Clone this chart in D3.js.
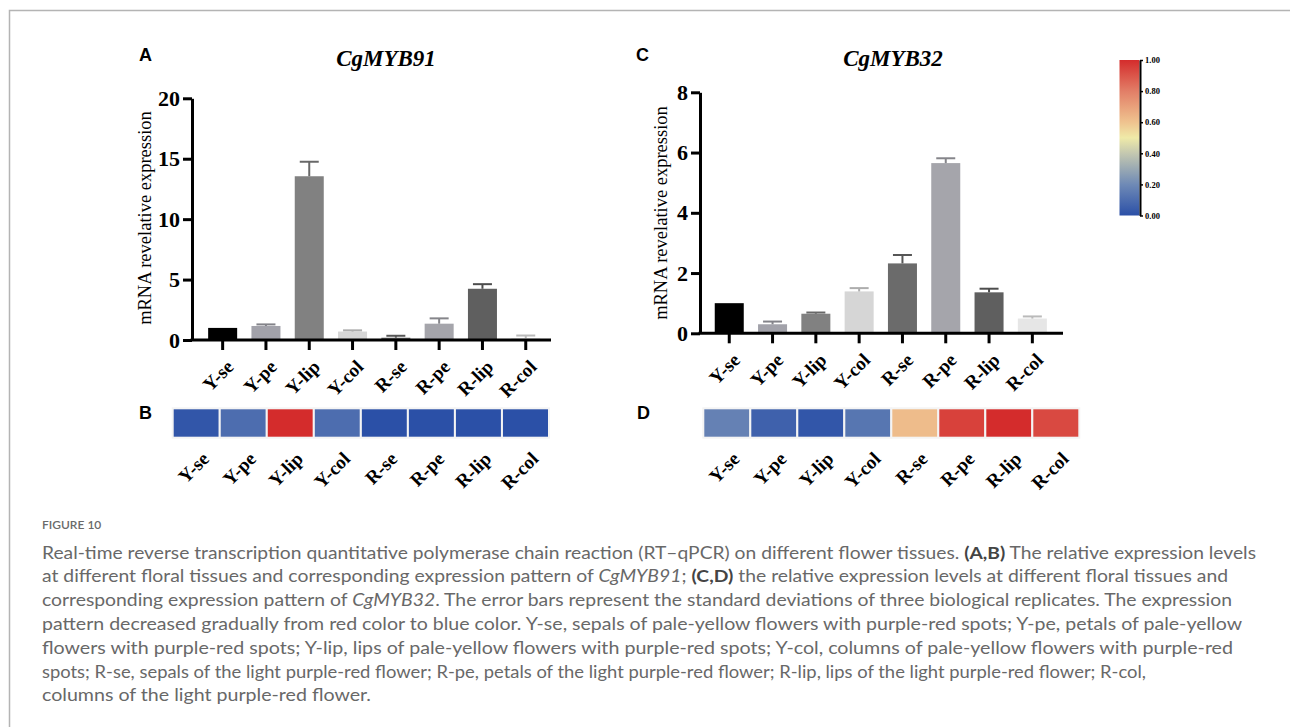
<!DOCTYPE html>
<html>
<head>
<meta charset="utf-8">
<script src="https://cdn.jsdelivr.net/npm/d3@7"></script>
<style>
  body { margin: 0; background: #fff; }
  svg { display: block; }
</style>
</head>
<body>
<div id="chart"></div>
<script>
// ---------------- data ----------------
var tissues = ["Y-se", "Y-pe", "Y-lip", "Y-col", "R-se", "R-pe", "R-lip", "R-col"];
var barColors = ["#000000", "#a2a2aa", "#818181", "#d6d6d6", "#6b6b6b", "#a5a5ab", "#5f5f5f", "#e6e6e6"];

var myb91Mean = [1.0, 1.16, 13.55, 0.70, 0.19, 1.35, 4.24, 0.15];
var myb91Sd   = [0.0, 0.13, 1.20, 0.10, 0.16, 0.44, 0.38, 0.22];
var myb91Ticks = [0, 5, 10, 15, 20];

var myb32Mean = [1.0, 0.30, 0.65, 1.39, 2.32, 5.65, 1.36, 0.49];
var myb32Sd   = [0.0, 0.09, 0.04, 0.11, 0.28, 0.16, 0.12, 0.07];
var myb32Ticks = [0, 2, 4, 6, 8];

// heat map patterns (normalised 0..1)
var heatB = [0.02, 0.10, 1.00, 0.10, 0.00, 0.00, 0.00, 0.00];
var heatD = [0.17, 0.06, 0.02, 0.13, 0.62, 0.95, 1.00, 0.93];

var legendStops = [0, 0.2, 0.4, 0.5, 0.6, 0.8, 1.0];
var legendColors = ["#2b50a7", "#6f8ab6", "#c4c8b0", "#efeaa8", "#efc38f", "#e27e67", "#d42c2c"];
var legendTicks = [0, 0.2, 0.4, 0.6, 0.8, 1.0];

var captionLines = [
  [["Real-time reverse transcription quantitative polymerase chain reaction (RT\u2013qPCR) on different flower tissues. ", ""], ["(A,B)", "b"], [" The relative expression levels", ""]],
  [["at different floral tissues and corresponding expression pattern of ", ""], ["CgMYB91", "i"], ["; ", ""], ["(C,D)", "b"], [" the relative expression levels at different floral tissues and", ""]],
  [["corresponding expression pattern of ", ""], ["CgMYB32", "i"], [". The error bars represent the standard deviations of three biological replicates. The expression", ""]],
  [["pattern decreased gradually from red color to blue color. Y-se, sepals of pale-yellow flowers with purple-red spots; Y-pe, petals of pale-yellow", ""]],
  [["flowers with purple-red spots; Y-lip, lips of pale-yellow flowers with purple-red spots; Y-col, columns of pale-yellow flowers with purple-red", ""]],
  [["spots; R-se, sepals of the light purple-red flower; R-pe, petals of the light purple-red flower; R-lip, lips of the light purple-red flower; R-col,", ""]],
  [["columns of the light purple-red flower.", ""]]
];
var captionEnds = [1256, 1228, 1232, 1242, 1233, 1146, 371];

// ---------------- setup ----------------
var W = 1290, H = 727;
var serif = '"Times New Roman", "Liberation Serif", serif';
var sans = 'Arial, "Liberation Sans", sans-serif';

var svg = d3.select("#chart").append("svg")
    .attr("width", W).attr("height", H);

// frame
svg.append("path")
    .attr("d", "M9.5," + H + "V10.5H" + W)
    .attr("fill", "none").attr("stroke", "#b4b4b4").attr("stroke-width", 1.5);

var colorScale = d3.scaleLinear().domain(legendStops).range(legendColors).clamp(true);

function barPanel(o) {
    var g = svg.append("g");
    var x = d3.scaleBand().domain(tissues)
        .range([o.bandStart, o.bandStart + 8 * 43.3])
        .paddingInner(0.33).paddingOuter(0.165);
    var y = d3.scaleLinear().domain([0, o.ticks[o.ticks.length - 1]]).range([o.y0, o.y1]);
    var rows = tissues.map(function (t, i) {
        return {name: t, mean: o.mean[i], sd: o.sd[i], color: barColors[i]};
    });

    g.selectAll("rect.bar").data(rows).enter().append("rect")
        .attr("class", "bar")
        .attr("x", function (d) { return x(d.name); })
        .attr("width", x.bandwidth())
        .attr("y", function (d) { return y(d.mean); })
        .attr("height", function (d) { return y(0) - y(d.mean); })
        .attr("fill", function (d) { return d.color; });

    // error bars (upper half only)
    var err = g.selectAll("g.err").data(rows.filter(function (d) { return d.sd > 0; }))
        .enter().append("g").attr("class", "err")
        .attr("transform", function (d) { return "translate(" + (x(d.name) + x.bandwidth() / 2) + ",0)"; });
    err.append("line")
        .attr("y1", function (d) { return y(d.mean); })
        .attr("y2", function (d) { return y(d.mean + d.sd); })
        .attr("stroke", function (d) { return d3.color(d.color).darker(0.6); })
        .attr("stroke-width", 2);
    err.append("line")
        .attr("x1", -9.5).attr("x2", 9.5)
        .attr("y1", function (d) { return y(d.mean + d.sd); })
        .attr("y2", function (d) { return y(d.mean + d.sd); })
        .attr("stroke", function (d) { return d3.color(d.color).darker(0.6); })
        .attr("stroke-width", 2);

    // y axis
    var ya = g.append("g")
        .attr("transform", "translate(" + o.axisX + ",0)")
        .call(d3.axisLeft(y).tickValues(o.ticks).tickSize(9).tickSizeOuter(0).tickPadding(3).tickFormat(d3.format("d")));
    ya.select(".domain").attr("stroke-width", 3);
    ya.selectAll(".tick line").attr("stroke-width", 3);
    ya.selectAll(".tick text")
        .attr("font-family", serif).attr("font-weight", "bold").attr("font-size", 22).attr("fill", "#000");

    // x axis
    var xa = g.append("g")
        .attr("transform", "translate(0," + o.y0 + ")")
        .call(d3.axisBottom(x).tickSize(10).tickSizeOuter(0));
    xa.select(".domain").remove();
    xa.append("line").attr("x1", o.axisX - 1.5).attr("x2", o.axisEnd)
        .attr("stroke", "#000").attr("stroke-width", 3);
    xa.selectAll(".tick line").attr("stroke-width", 3);
    xa.selectAll(".tick text")
        .attr("font-family", serif).attr("font-weight", "bold").attr("font-size", 19).attr("fill", "#000")
        .attr("text-anchor", "end").attr("y", 0).attr("dy", 0)
        .attr("transform", "translate(12,28) rotate(-45)");

    // y label
    g.append("text")
        .attr("transform", "translate(" + o.labelX + "," + o.labelY + ") rotate(-90)")
        .attr("text-anchor", "middle").attr("dominant-baseline", "central")
        .attr("font-family", serif).attr("font-size", 18.5)
        .text("mRNA revelative expression");

    // title
    g.append("text")
        .attr("x", o.titleX).attr("y", 66)
        .attr("text-anchor", "middle")
        .attr("font-family", serif).attr("font-weight", "bold").attr("font-style", "italic").attr("font-size", 23)
        .text(o.title);

    // panel letter
    g.append("text").attr("x", o.letterX).attr("y", 61)
        .attr("font-family", sans).attr("font-weight", "bold").attr("font-size", 18)
        .text(o.letter);
}

function heatPanel(o) {
    var g = svg.append("g");
    var x = d3.scaleBand().domain(tissues).range([o.x0, o.x1]);
    g.selectAll("rect").data(o.values).enter().append("rect")
        .attr("x", function (d, i) { return x(tissues[i]); })
        .attr("y", 408.3)
        .attr("width", x.bandwidth())
        .attr("height", 29.4)
        .attr("fill", function (d) { return colorScale(d); })
        .attr("stroke", "#f4f4f4").attr("stroke-width", 2);
    g.selectAll("text.lab").data(tissues).enter().append("text")
        .attr("class", "lab")
        .attr("text-anchor", "end")
        .attr("transform", function (d) {
            return "translate(" + (x(d) + x.bandwidth() / 2 + 14) + ",460) rotate(-45)";
        })
        .attr("font-family", serif).attr("font-weight", "bold").attr("font-size", 19)
        .text(function (d) { return d; });
    g.append("text").attr("x", o.letterX).attr("y", 419)
        .attr("font-family", sans).attr("font-weight", "bold").attr("font-size", 18)
        .text(o.letter);
}

barPanel({
    mean: myb91Mean, sd: myb91Sd, ticks: myb91Ticks, title: "CgMYB91", letter: "A",
    axisX: 192, axisEnd: 551, bandStart: 201, y0: 340, y1: 98.3,
    labelX: 145, labelY: 218, titleX: 386, letterX: 139
});
barPanel({
    mean: myb32Mean, sd: myb32Sd, ticks: myb32Ticks, title: "CgMYB32", letter: "C",
    axisX: 700, axisEnd: 1063, bandStart: 707.6, y0: 333.3, y1: 92.3,
    labelX: 661, labelY: 213, titleX: 893, letterX: 636
});

heatPanel({values: heatB, x0: 172.7, x1: 549, letter: "B", letterX: 139});
heatPanel({values: heatD, x0: 703.3, x1: 1079.3, letter: "D", letterX: 637});

// colour legend
var defs = svg.append("defs");
var grad = defs.append("linearGradient").attr("id", "heatGrad")
    .attr("x1", 0).attr("y1", 1).attr("x2", 0).attr("y2", 0);
grad.selectAll("stop").data(legendStops).enter().append("stop")
    .attr("offset", function (d) { return d; })
    .attr("stop-color", function (d, i) { return legendColors[i]; });

var ly = d3.scaleLinear().domain([0, 1]).range([215.5, 60]);
svg.append("rect")
    .attr("x", 1119.5).attr("y", ly(1)).attr("width", 20).attr("height", ly(0) - ly(1))
    .attr("fill", "url(#heatGrad)");
var la = svg.append("g").attr("transform", "translate(1140,0)")
    .call(d3.axisRight(ly).tickValues(legendTicks).tickSize(3).tickSizeOuter(0).tickPadding(2).tickFormat(d3.format(".2f")));
la.select(".domain").attr("stroke-width", 2);
la.selectAll(".tick line").attr("stroke-width", 1.5);
la.selectAll(".tick text")
    .attr("font-family", serif).attr("font-weight", "bold").attr("font-size", 8.5).attr("fill", "#000");

// caption
svg.append("text").attr("x", 42).attr("y", 529)
    .attr("font-family", "Lato, sans-serif").attr("font-weight", 600).attr("font-size", 12)
    .attr("fill", "#6a6a6a")
    .text("FIGURE 10");

captionLines.forEach(function (parts, i) {
    var t = svg.append("text")
        .attr("x", 42).attr("y", 558.5 + i * 23.8)
        .attr("font-family", "Lato, sans-serif").attr("font-size", 17)
        .attr("fill", "#686868")
        .attr("textLength", captionEnds[i] - 42)
        .attr("lengthAdjust", "spacingAndGlyphs");
    parts.forEach(function (p) {
        var s = t.append("tspan").text(p[0]);
        if (p[1] === "b") s.attr("font-weight", "bold").attr("fill", "#444");
        if (p[1] === "i") s.attr("font-style", "italic");
    });
});
</script>
</body>
</html>
